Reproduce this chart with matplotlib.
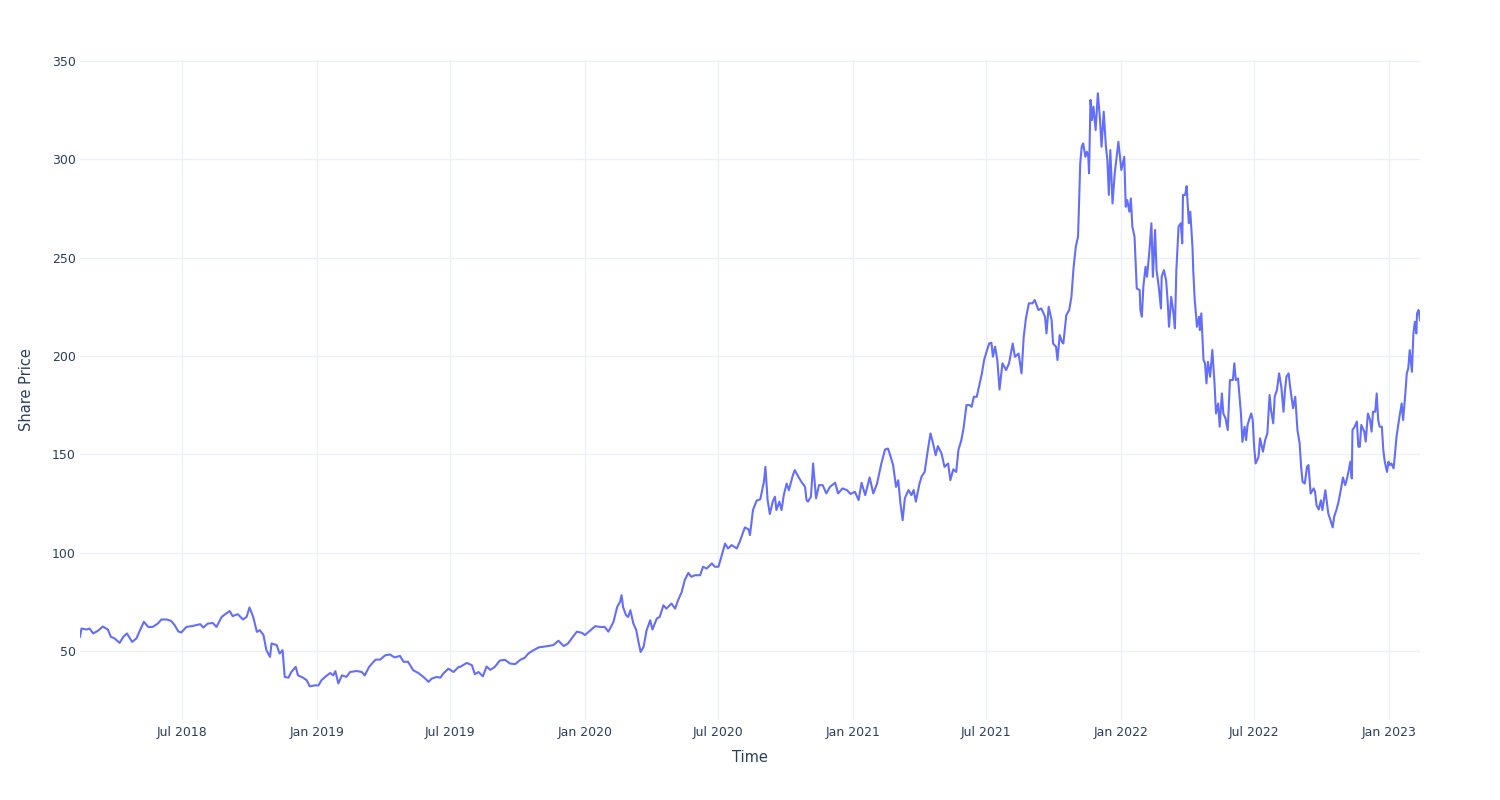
import matplotlib
matplotlib.use("Agg")
import matplotlib.pyplot as plt
import matplotlib.dates as mdates
import pandas as pd

# ---- data ----
start_date = "2018-02-12"   # first trading day shown
# calendar days since start_date
days = [
    0, 2, 9, 13, 18, 25, 31, 38, 42, 47, 54, 59, 64, 71, 77, 81, 87, 93, 99, 106,
    111, 118, 124, 129, 134, 138, 145, 152, 158, 164, 168, 174, 181, 186, 193, 199, 204, 208, 215, 222,
    227, 231, 236, 241, 245, 250, 254, 259, 261, 268, 272, 276, 279, 284, 288, 294, 297, 304, 309, 313,
    320, 325, 329, 335, 341, 345, 348, 352, 357, 363, 368, 377, 384, 388, 394, 400, 403, 409, 416, 422,
    429, 436, 441, 447, 454, 461, 468, 475, 479, 486, 491, 495, 502, 509, 516, 518, 527, 534, 538, 543,
    549, 554, 559, 565, 572, 579, 586, 593, 600, 606, 611, 618, 625, 631, 638, 645, 652, 659, 665, 670,
    677, 684, 688, 695, 702, 709, 715, 720, 727, 732, 736, 738, 740, 744, 747, 750, 754, 758, 761, 764,
    768, 772, 777, 780, 786, 790, 795, 799, 806, 811, 815, 820, 824, 829, 833, 838, 845, 849, 854, 861,
    865, 870, 874, 879, 883, 888, 895, 899, 906, 911, 913, 917, 922, 927, 930, 932, 934, 937, 940, 944,
    947, 949, 953, 956, 959, 963, 966, 971, 974, 979, 983, 988, 990, 992, 996, 999, 1003, 1007, 1012, 1017,
    1022, 1029, 1033, 1039, 1045, 1050, 1056, 1061, 1065, 1070, 1076, 1081, 1086, 1092, 1097, 1101, 1104, 1108, 1112, 1115,
    1118, 1121, 1124, 1129, 1133, 1136, 1139, 1144, 1147, 1151, 1156, 1159, 1163, 1166, 1169, 1174, 1178, 1183, 1186, 1190,
    1194, 1197, 1201, 1204, 1208, 1212, 1215, 1218, 1222, 1226, 1229, 1232, 1236, 1239, 1242, 1244, 1247, 1250, 1253, 1257,
    1262, 1266, 1271, 1274, 1279, 1283, 1286, 1289, 1293, 1298, 1301, 1306, 1310, 1315, 1317, 1320, 1324, 1326, 1330, 1332,
    1335, 1338, 1340, 1344, 1348, 1351, 1354, 1357, 1360, 1361, 1363, 1365, 1367, 1370, 1372, 1374, 1375, 1377, 1379, 1381,
    1384, 1387, 1390, 1392, 1395, 1398, 1400, 1402, 1404, 1407, 1410, 1415, 1419, 1423, 1425, 1427, 1430, 1432, 1434, 1437,
    1440, 1444, 1445, 1447, 1449, 1452, 1454, 1457, 1460, 1462, 1465, 1467, 1470, 1473, 1474, 1477, 1480, 1482, 1484, 1487,
    1490, 1492, 1494, 1497, 1500, 1502, 1503, 1506, 1508, 1511, 1513, 1516, 1517, 1519, 1521, 1522, 1525, 1526, 1528, 1531,
    1533, 1535, 1537, 1540, 1543, 1546, 1548, 1551, 1553, 1556, 1558, 1561, 1564, 1567, 1571, 1573, 1575, 1578, 1582, 1584,
    1587, 1589, 1591, 1593, 1596, 1598, 1600, 1602, 1606, 1608, 1612, 1615, 1618, 1621, 1623, 1626, 1628, 1631, 1634, 1637,
    1640, 1642, 1644, 1647, 1649, 1653, 1656, 1658, 1659, 1662, 1664, 1666, 1669, 1672, 1674, 1677, 1681, 1683, 1685, 1688,
    1691, 1693, 1697, 1699, 1701, 1704, 1707, 1709, 1712, 1715, 1718, 1721, 1724, 1726, 1729, 1731, 1733, 1734, 1737, 1740,
    1742, 1744, 1746, 1750, 1752, 1755, 1758, 1760, 1762, 1765, 1767, 1769, 1771, 1774, 1776, 1778, 1781, 1783, 1785, 1787,
    1790, 1792, 1794, 1798, 1801, 1803, 1806, 1808, 1810, 1812, 1815, 1817, 1819, 1821, 1822, 1824, 1826,
]
price = [
    57.3, 61.5, 61.0, 61.5, 59.0, 60.5, 62.5, 61.0, 57.3, 56.5, 54.2, 57.3, 59.0, 54.7, 56.5, 60.0, 64.9, 62.3, 62.3, 64.0,
    66.1, 66.1, 65.4, 63.2, 60.0, 59.5, 62.3, 62.7, 63.2, 63.7, 62.0, 64.0, 64.3, 62.3, 67.4, 69.1, 70.4, 67.8, 68.8, 66.1,
    67.4, 72.2, 67.4, 59.8, 60.7, 58.2, 50.5, 47.1, 53.9, 53.1, 48.8, 50.5, 36.9, 36.5, 39.4, 42.0, 37.7, 36.5, 35.2, 32.1,
    32.6, 32.6, 35.2, 37.2, 38.9, 37.7, 39.8, 33.6, 37.7, 36.9, 39.4, 39.9, 39.4, 37.7, 42.0, 44.6, 45.7, 45.7, 47.9, 48.3,
    46.8, 47.6, 44.6, 44.6, 40.3, 38.9, 36.9, 34.4, 36.0, 36.9, 36.5, 38.6, 41.1, 39.4, 42.0, 42.0, 44.0, 42.9, 38.3, 39.4,
    37.2, 42.2, 40.5, 41.9, 45.2, 45.6, 43.7, 43.4, 45.6, 46.6, 48.8, 50.5, 51.9, 52.2, 52.6, 53.1, 55.3, 52.6, 53.9, 56.5,
    59.9, 59.3, 58.2, 60.4, 62.7, 62.3, 62.3, 59.9, 64.9, 72.5, 75.1, 78.5, 72.5, 68.3, 67.4, 70.8, 64.1, 60.7, 54.7, 49.6,
    52.2, 60.5, 65.7, 61.0, 66.6, 67.4, 73.3, 71.6, 74.2, 71.6, 75.9, 80.1, 86.1, 89.8, 87.8, 88.6, 88.6, 92.9, 92.0, 94.6,
    92.9, 92.9, 98.0, 104.7, 102.2, 103.9, 102.2, 105.6, 112.9, 111.9, 109.0, 121.7, 126.5, 127.2, 132.7, 136.1, 143.7, 126.8, 119.7, 126.0,
    128.5, 121.7, 126.0, 121.7, 129.3, 135.2, 131.8, 138.9, 142.0, 138.6, 136.1, 133.5, 126.8, 126.0, 128.5, 145.4, 127.7, 134.4, 134.4, 130.2,
    133.5, 135.6, 130.2, 132.7, 131.9, 129.9, 131.0, 126.8, 135.6, 129.3, 138.3, 130.2, 135.0, 145.4, 152.5, 153.0, 149.6, 144.6, 133.5, 136.9,
    125.1, 116.6, 127.7, 131.9, 129.3, 131.9, 126.0, 135.2, 138.9, 141.1, 153.9, 160.7, 154.7, 149.6, 154.2, 150.5, 143.7, 145.4, 136.9, 142.4,
    141.1, 152.2, 157.3, 163.3, 175.1, 175.1, 174.2, 179.3, 179.3, 186.1, 191.2, 198.0, 203.0, 206.4, 206.8, 199.7, 204.8, 198.0, 183.0, 196.3,
    192.9, 196.3, 206.4, 199.6, 201.3, 191.2, 209.8, 219.2, 226.8, 226.8, 228.5, 223.4, 224.2, 220.0, 211.5, 225.1, 218.3, 206.4, 204.7, 198.0,
    210.7, 207.3, 206.4, 220.8, 223.4, 230.1, 245.4, 255.6, 260.7, 272.5, 298.0, 306.4, 308.1, 301.3, 303.9, 301.3, 292.9, 330.2, 320.0, 326.8,
    314.9, 333.6, 320.0, 306.4, 324.2, 306.4, 299.7, 281.9, 304.7, 277.6, 292.9, 308.9, 294.6, 301.3, 275.9, 279.3, 273.4, 280.1, 265.8, 260.7,
    234.4, 233.5, 223.4, 220.0, 235.2, 245.4, 240.3, 252.2, 267.5, 240.3, 264.1, 243.7, 235.2, 224.2, 240.3, 243.7, 238.6, 228.5, 214.9, 230.1,
    221.7, 214.1, 243.7, 265.8, 267.5, 257.3, 281.9, 281.9, 286.4, 267.5, 273.4, 255.0, 243.7, 228.5, 220.0, 214.9, 220.0, 213.2, 221.7, 198.0,
    196.3, 186.1, 197.1, 189.5, 203.1, 186.1, 170.8, 175.9, 164.1, 181.0, 170.8, 168.3, 162.4, 187.8, 187.8, 196.3, 187.8, 188.6, 170.8, 156.4,
    164.1, 157.3, 164.9, 167.5, 170.8, 167.5, 153.9, 145.4, 148.8, 158.2, 151.4, 157.3, 160.7, 180.2, 172.5, 165.8, 179.3, 182.7, 191.2, 184.4,
    171.7, 182.7, 189.5, 191.2, 184.4, 173.5, 179.3, 167.5, 162.4, 155.6, 143.7, 136.1, 135.2, 143.7, 144.6, 130.1, 132.7, 131.0, 124.2, 122.0,
    126.7, 121.7, 131.8, 125.9, 120.0, 116.6, 112.9, 118.3, 121.7, 125.9, 131.8, 138.3, 134.4, 136.9, 142.0, 146.3, 137.8, 162.4, 164.1, 166.7,
    153.9, 153.9, 165.0, 161.6, 156.5, 170.8, 167.5, 161.6, 171.7, 171.7, 181.0, 167.5, 164.1, 164.1, 152.2, 146.3, 141.1, 146.3, 144.6, 145.4,
    142.9, 150.5, 159.0, 169.1, 175.9, 167.5, 181.0, 191.2, 193.7, 203.0, 192.0, 211.5, 217.4, 211.5, 221.7, 223.4, 218.3,
]
x_tick_dates = ["2018-07-01", "2019-01-01", "2019-07-01", "2020-01-01", "2020-07-01",
                "2021-01-01", "2021-07-01", "2022-01-01", "2022-07-01", "2023-01-01"]
x_tick_labels = ["Jul 2018", "Jan 2019", "Jul 2019", "Jan 2020", "Jul 2020",
                 "Jan 2021", "Jul 2021", "Jan 2022", "Jul 2022", "Jan 2023"]
y_ticks = [50, 100, 150, 200, 250, 300, 350]
x_title = "Time"
y_title = "Share Price"

# ---- plot ----
dates = pd.Timestamp(start_date) + pd.to_timedelta(days, unit="D")

plt.rcParams["font.family"] = ["DejaVu Sans"]
text_color = "#2a3f5f"
grid_color = "#EBF0F8"

fig = plt.figure(figsize=(15, 8), dpi=100)
ax = fig.add_axes([80 / 1500, 80 / 800, 1340 / 1500, 660 / 800])
ax.plot(dates, price, color="#636efa", linewidth=1.5, solid_joinstyle="round")

ax.set_xlim(dates[0], dates[-1])
ax.set_ylim(15, 350.5)

ax.set_xticks(pd.to_datetime(x_tick_dates))
ax.set_xticklabels(x_tick_labels)
ax.set_yticks(y_ticks)
ax.set_yticklabels([str(v) for v in y_ticks])

ax.grid(True, color=grid_color, linewidth=1)
ax.set_axisbelow(True)
for s in ax.spines.values():
    s.set_visible(False)
ax.tick_params(axis="both", length=0, labelsize=9, labelcolor=text_color)
ax.tick_params(axis="x", pad=4)
ax.tick_params(axis="y", pad=3)

ax.set_xlabel(x_title, fontsize=10.5, color=text_color)
ax.set_ylabel(y_title, fontsize=10.5, color=text_color, va="center")
ax.xaxis.set_label_coords(0.5, -0.045)
ax.yaxis.set_label_coords(-0.0396, 0.5)

fig.savefig("out.png", dpi=100, facecolor="white")
